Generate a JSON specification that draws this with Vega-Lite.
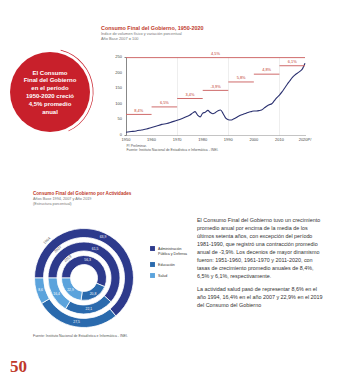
{
  "$schema": "https://vega.github.io/schema/vega-lite/v6.json",
  "padding": 0,
  "background": "white",
  "config": {
    "view": {"stroke": null},
    "font": "Liberation Sans",
    "title": {"anchor": "start", "subtitleFont": "Liberation Sans"}
  },
  "datasets": {
    "serie": [
      {"anio": 1950, "indice": 9}, {"anio": 1952, "indice": 11}, {"anio": 1954, "indice": 13},
      {"anio": 1956, "indice": 16}, {"anio": 1958, "indice": 19}, {"anio": 1960, "indice": 24},
      {"anio": 1962, "indice": 29}, {"anio": 1964, "indice": 34}, {"anio": 1966, "indice": 37},
      {"anio": 1968, "indice": 42}, {"anio": 1970, "indice": 47}, {"anio": 1972, "indice": 53},
      {"anio": 1974, "indice": 60}, {"anio": 1975, "indice": 64}, {"anio": 1976, "indice": 70},
      {"anio": 1977, "indice": 75}, {"anio": 1978, "indice": 64}, {"anio": 1979, "indice": 58},
      {"anio": 1980, "indice": 70}, {"anio": 1981, "indice": 73}, {"anio": 1982, "indice": 79},
      {"anio": 1983, "indice": 72}, {"anio": 1984, "indice": 68}, {"anio": 1985, "indice": 72},
      {"anio": 1986, "indice": 78}, {"anio": 1987, "indice": 80}, {"anio": 1988, "indice": 68},
      {"anio": 1989, "indice": 54}, {"anio": 1990, "indice": 49}, {"anio": 1991, "indice": 48},
      {"anio": 1992, "indice": 51}, {"anio": 1993, "indice": 55}, {"anio": 1994, "indice": 60},
      {"anio": 1995, "indice": 64}, {"anio": 1996, "indice": 67}, {"anio": 1997, "indice": 70},
      {"anio": 1998, "indice": 73}, {"anio": 1999, "indice": 75}, {"anio": 2000, "indice": 77},
      {"anio": 2001, "indice": 77}, {"anio": 2002, "indice": 78}, {"anio": 2003, "indice": 80},
      {"anio": 2004, "indice": 86}, {"anio": 2005, "indice": 92}, {"anio": 2006, "indice": 97},
      {"anio": 2007, "indice": 100}, {"anio": 2008, "indice": 110}, {"anio": 2009, "indice": 120},
      {"anio": 2010, "indice": 128}, {"anio": 2011, "indice": 138}, {"anio": 2012, "indice": 150},
      {"anio": 2013, "indice": 162}, {"anio": 2014, "indice": 173}, {"anio": 2015, "indice": 184},
      {"anio": 2016, "indice": 192}, {"anio": 2017, "indice": 198}, {"anio": 2018, "indice": 204},
      {"anio": 2019, "indice": 212}, {"anio": 2020, "indice": 230}
    ],
    "tramos": [
      {"inicio": 1950, "fin": 1960, "medio": 1955, "nivel": 66, "tasa": "8,4%"},
      {"inicio": 1960, "fin": 1970, "medio": 1965, "nivel": 90, "tasa": "6,5%"},
      {"inicio": 1970, "fin": 1980, "medio": 1975, "nivel": 117, "tasa": "3,4%"},
      {"inicio": 1980, "fin": 1990, "medio": 1985, "nivel": 143, "tasa": "-3,9%"},
      {"inicio": 1990, "fin": 2000, "medio": 1995, "nivel": 170, "tasa": "5,8%"},
      {"inicio": 2000, "fin": 2010, "medio": 2005, "nivel": 195, "tasa": "4,8%"},
      {"inicio": 2010, "fin": 2020, "medio": 2015, "nivel": 222, "tasa": "6,1%"},
      {"inicio": 1950, "fin": 2020, "medio": 1985, "nivel": 248, "tasa": "4,5%"}
    ],
    "rotulosX": [
      {"anio": 1950, "rotulo": "1950"}, {"anio": 1960, "rotulo": "1960"}, {"anio": 1970, "rotulo": "1970"},
      {"anio": 1980, "rotulo": "1980"}, {"anio": 1990, "rotulo": "1990"}, {"anio": 2000, "rotulo": "2000"},
      {"anio": 2010, "rotulo": "2010"}, {"anio": 2020, "rotulo": "2020P/"}
    ],
    "rotulosY": [
      {"indice": 0, "rotulo": "0"}, {"indice": 50, "rotulo": "50"}, {"indice": 100, "rotulo": "100"},
      {"indice": 150, "rotulo": "150"}, {"indice": 200, "rotulo": "200"}, {"indice": 250, "rotulo": "250"}
    ],
    "donut": [
      {"anio": "1994", "actividad": "Administración Pública y Defensa", "orden": 1, "valor": 63.9, "etiqueta": "63,9"},
      {"anio": "1994", "actividad": "Educación", "orden": 2, "valor": 27.5, "etiqueta": "27,5"},
      {"anio": "1994", "actividad": "Salud", "orden": 3, "valor": 8.6, "etiqueta": "8,6"},
      {"anio": "2007", "actividad": "Administración Pública y Defensa", "orden": 1, "valor": 61.5, "etiqueta": "61,5"},
      {"anio": "2007", "actividad": "Educación", "orden": 2, "valor": 22.1, "etiqueta": "22,1"},
      {"anio": "2007", "actividad": "Salud", "orden": 3, "valor": 16.4, "etiqueta": "16,4"},
      {"anio": "2019", "actividad": "Administración Pública y Defensa", "orden": 1, "valor": 56.3, "etiqueta": "56,3"},
      {"anio": "2019", "actividad": "Educación", "orden": 2, "valor": 20.8, "etiqueta": "20,8"},
      {"anio": "2019", "actividad": "Salud", "orden": 3, "valor": 22.9, "etiqueta": "22,9"}
    ]
  },
  "spacing": 0,
  "resolve": {"legend": {"color": "independent"}},
  "vconcat": [
    {
      "spacing": 0,
      "bounds": "flush",
      "hconcat": [
        {
          "width": 100,
          "height": 184,
          "data": {"values": [{}]},
          "layer": [
            {"mark": {"type": "arc", "radius": 40, "theta": 0, "theta2": 6.2832, "color": "#c8202b"}, "encoding": {}},
            {"mark": {"type": "arc", "radius": 43.5, "radius2": 42.8, "theta": 0.25, "theta2": 2.7, "color": "#c8202b"}, "encoding": {}},
            {"mark": {"type": "text", "color": "white", "fontWeight": "bold", "fontSize": 6, "lineHeight": 7.8, "align": "center", "baseline": "middle", "dy": -19.5,
              "text": ["El Consumo", "Final del Gobierno", "en el período", "1950-2020  creció", "4,5%  promedio", "anual"]}, "encoding": {}}
          ]
        },
        {"width": 26, "height": 10, "data": {"values": [{}]}, "mark": {"type": "point", "opacity": 0}},
        {
          "spacing": 0,
          "bounds": "flush",
          "vconcat": [
            {"width": 179, "height": 57, "data": {"values": [{}]}, "mark": {"type": "point", "opacity": 0}},
            {
              "width": 179,
              "height": 78,
              "title": {
                "text": "Consumo Final del Gobierno, 1950-2020",
                "subtitle": ["Índice de volumen físico y variación porcentual", "Año Base 2007 = 100"],
                "anchor": "start", "frame": "group", "dx": -25, "offset": 11,
                "fontSize": 5.4, "fontWeight": "bold", "color": "#c0392b",
                "subtitleFontSize": 3.9, "subtitleColor": "#777", "subtitlePadding": 1, "subtitleLineHeight": 4.9
              },
              "layer": [
                {
                  "data": {"name": "serie"},
                  "mark": {"type": "line", "color": "#2b3170", "strokeWidth": 1.1, "interpolate": "monotone"},
                  "encoding": {
                    "x": {"field": "anio", "type": "quantitative",
                      "scale": {"domain": [1950, 2020], "nice": false, "zero": false},
                      "axis": {"values": [1950, 1960, 1970, 1980, 1990, 2000, 2010, 2020], "labels": false, "ticks": false,
                        "domainDash": [1, 1], "domainColor": "#888", "grid": true, "gridColor": "#e3e3e3", "gridWidth": 0.6,
                        "title": ["P/ Preliminar.", "Fuente: Instituto Nacional de Estadística e Informática - INEI."],
                        "titleAnchor": "start", "titleAlign": "left", "titleFontSize": 3.4, "titleFontWeight": "normal",
                        "titleColor": "#555", "titlePadding": 8, "titleLineHeight": 4.2}},
                    "y": {"field": "indice", "type": "quantitative",
                      "scale": {"domain": [0, 250], "nice": false},
                      "axis": {"values": [0, 50, 100, 150, 200, 250], "labels": false, "grid": false,
                        "tickSize": 2, "tickColor": "#888", "domainColor": "#888", "title": null}}
                  }
                },
                {
                  "data": {"name": "rotulosX"},
                  "mark": {"type": "text", "color": "#444", "fontSize": 4, "baseline": "top", "dy": 2.5},
                  "encoding": {
                    "x": {"field": "anio", "type": "quantitative"},
                    "y": {"datum": 0, "type": "quantitative"},
                    "text": {"field": "rotulo"}
                  }
                },
                {
                  "data": {"name": "rotulosY"},
                  "mark": {"type": "text", "color": "#444", "fontSize": 4, "align": "right", "baseline": "middle", "dx": -4},
                  "encoding": {
                    "x": {"datum": 1950, "type": "quantitative"},
                    "y": {"field": "indice", "type": "quantitative"},
                    "text": {"field": "rotulo"}
                  }
                },
                {
                  "data": {"name": "tramos"},
                  "mark": {"type": "rule", "color": "#cf6b6b", "strokeWidth": 1},
                  "encoding": {
                    "x": {"field": "inicio", "type": "quantitative"},
                    "x2": {"field": "fin"},
                    "y": {"field": "nivel", "type": "quantitative"}
                  }
                },
                {
                  "data": {"name": "tramos"},
                  "mark": {"type": "text", "color": "#c0392b", "fontSize": 3.9, "dy": -3.7},
                  "encoding": {
                    "x": {"field": "medio", "type": "quantitative"},
                    "y": {"field": "nivel", "type": "quantitative"},
                    "text": {"field": "tasa"}
                  }
                }
              ]
            }
          ]
        }
      ]
    },
    {
      "spacing": 0,
      "bounds": "flush",
      "resolve": {"legend": {"color": "independent"}},
      "vconcat": [
        {
          "width": 351, "height": 1, "data": {"values": [{}]}, "mark": {"type": "point", "opacity": 0},
          "title": {
            "text": "Consumo Final del Gobierno por Actividades",
            "subtitle": ["Años Base 1994, 2007 y Año 2019", "(Estructura porcentual)"],
            "orient": "bottom", "anchor": "start", "dx": 33, "offset": 1,
            "fontSize": 4.6, "fontWeight": "bold", "color": "#c0392b",
            "subtitleFontSize": 3.8, "subtitleColor": "#777", "subtitlePadding": 1, "subtitleLineHeight": 4.8
          }
        },
        {
          "width": 351, "height": 41, "data": {"values": [{}]}, "mark": {"type": "point", "opacity": 0},
          "title": {
            "text": [
              "El Consumo Final del Gobierno tuvo un crecimiento",
              "promedio anual por encima de la media de los",
              "últimos setenta años, con excepción del período",
              "1981-1990, que registró una contracción promedio",
              "anual de -3,9%. Los decenios de mayor dinamismo",
              "fueron: 1951-1960, 1961-1970 y 2011-2020, con",
              "tasas de crecimiento promedio anuales de 8,4%,",
              "6,5% y 6,1%, respectivamente."
            ],
            "subtitle": [
              "La actividad salud pasó de representar 8,6% en el",
              "año 1994, 16,4% en el año 2007 y 22,9% en el 2019",
              "del Consumo del Gobierno"
            ],
            "orient": "bottom", "anchor": "start", "dx": 197, "offset": -11,
            "fontSize": 5.4, "fontWeight": "normal", "color": "#333", "lineHeight": 8,
            "subtitleFontSize": 5.4, "subtitleColor": "#333", "subtitleLineHeight": 8, "subtitlePadding": 8
          }
        },
        {
          "width": 168,
          "height": 98,
          "data": {"name": "donut"},
          "layer": [
            {
              "transform": [{"filter": "datum.anio == '1994'"}],
              "mark": {"type": "arc", "radius": 49.5, "radius2": 40.5, "stroke": "white", "strokeWidth": 0.8},
              "encoding": {
                "theta": {"field": "valor", "type": "quantitative", "stack": true, "scale": {"range": [-1.5708, 4.7124]}},
                "color": {"field": "actividad", "type": "nominal",
                  "scale": {"domain": ["Administración Pública y Defensa", "Educación", "Salud"], "range": ["#2d3a8c", "#2a6aad", "#5ba3dc"]},
                  "legend": {"orient": "none", "legendX": 150, "legendY": 17, "title": null, "symbolType": "square", "symbolSize": 24,
                    "symbolStrokeWidth": 0, "labelFontSize": 3.6, "labelColor": "#333", "labelOffset": 3, "rowPadding": 6,
                    "labelExpr": "datum.label == 'Administración Pública y Defensa' ? ['Administración', 'Pública y Defensa'] : datum.label"}},
                "order": {"field": "orden"}
              }
            },
            {
              "transform": [{"filter": "datum.anio == '2007'"}],
              "mark": {"type": "arc", "radius": 36, "radius2": 27, "stroke": "white", "strokeWidth": 0.8},
              "encoding": {
                "theta": {"field": "valor", "type": "quantitative", "stack": true},
                "color": {"field": "actividad", "type": "nominal"},
                "order": {"field": "orden"}
              }
            },
            {
              "transform": [{"filter": "datum.anio == '2019'"}],
              "mark": {"type": "arc", "radius": 22.5, "radius2": 13.5, "stroke": "white", "strokeWidth": 0.8},
              "encoding": {
                "theta": {"field": "valor", "type": "quantitative", "stack": true},
                "color": {"field": "actividad", "type": "nominal"},
                "order": {"field": "orden"}
              }
            },
            {
              "transform": [{"filter": "datum.anio == '1994'"}],
              "mark": {"type": "text", "radius": 45, "fontSize": 3.4, "color": "white", "baseline": "middle"},
              "encoding": {
                "theta": {"field": "valor", "type": "quantitative", "stack": true},
                "order": {"field": "orden"},
                "text": {"field": "etiqueta"}
              }
            },
            {
              "transform": [{"filter": "datum.anio == '2007'"}],
              "mark": {"type": "text", "radius": 31.5, "fontSize": 3.4, "color": "white", "baseline": "middle"},
              "encoding": {
                "theta": {"field": "valor", "type": "quantitative", "stack": true},
                "order": {"field": "orden"},
                "text": {"field": "etiqueta"}
              }
            },
            {
              "transform": [{"filter": "datum.anio == '2019'"}],
              "mark": {"type": "text", "radius": 18, "fontSize": 3.4, "color": "white", "baseline": "middle"},
              "encoding": {
                "theta": {"field": "valor", "type": "quantitative", "stack": true},
                "order": {"field": "orden"},
                "text": {"field": "etiqueta"}
              }
            },
            {
              "data": {"values": [{}]},
              "mark": {"type": "text", "text": "1994", "theta": -0.78, "radius": 52.5, "angle": -45, "fontSize": 3.8, "color": "#666", "baseline": "middle", "align": "center"},
              "encoding": {}
            },
            {
              "data": {"values": [{}]},
              "mark": {"type": "text", "text": "2007", "theta": -0.74, "radius": 38.6, "angle": -42, "fontSize": 3.8, "color": "#666", "baseline": "middle", "align": "center"},
              "encoding": {}
            },
            {
              "data": {"values": [{}]},
              "mark": {"type": "text", "text": "2019", "theta": -0.7, "radius": 25, "angle": -40, "fontSize": 3.8, "color": "#666", "baseline": "middle", "align": "center"},
              "encoding": {}
            }
          ]
        },
        {
          "width": 351, "height": 4, "data": {"values": [{}]}, "mark": {"type": "point", "opacity": 0},
          "title": {"text": "Fuente: Instituto Nacional de Estadística e Informática - INEI.", "orient": "bottom", "anchor": "start",
            "dx": 33, "offset": 2, "fontSize": 3.5, "fontWeight": "normal", "color": "#555"}
        },
        {
          "width": 351, "height": 28, "data": {"values": [{}]}, "mark": {"type": "point", "opacity": 0},
          "title": {"text": "50", "orient": "bottom", "anchor": "start", "dx": 10, "offset": 0,
            "fontSize": 17, "font": "Liberation Serif", "fontWeight": "bold", "color": "#c0392b"}
        }
      ]
    }
  ]
}
